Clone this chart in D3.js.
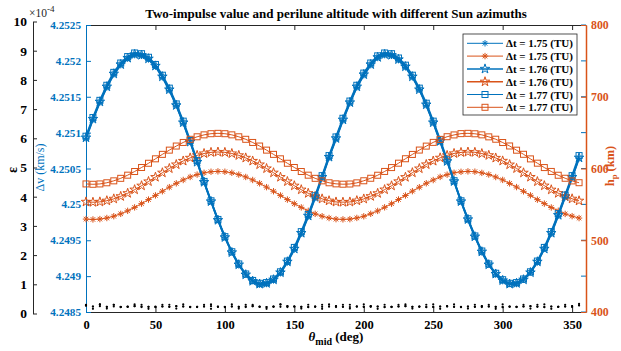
<!DOCTYPE html>
<html>
<head>
<meta charset="utf-8">
<script src="https://cdn.jsdelivr.net/npm/d3@7"></script>
<style>
  html, body { margin: 0; padding: 0; background: #fff; }
  svg { display: block; }
  svg text { font-family: "Liberation Serif", "Times New Roman", serif; }
</style>
</head>
<body>
<svg id="chart" width="621" height="351"></svg>
<script>
// Sun azimuth samples (deg)
const thetaMid = [0,5,10,15,20,25,30,35,40,45,50,55,60,65,70,75,80,85,90,95,100,105,110,115,120,125,130,135,140,145,150,155,160,165,170,175,
  180,185,190,195,200,205,210,215,220,225,230,235,240,245,250,255,260,265,270,275,280,285,290,295,300,305,310,315,320,325,330,335,340,345,350,355];

// Two-impulse Δv (km/s) for each transfer time
const dv175 = [4.25092,4.25118,4.25142,4.25163,4.25181,4.25194,4.25203,4.25208,4.25207,4.25202,4.25192,4.25177,4.25159,4.25138,4.25113,4.25087,4.25059,4.25031,4.25004,4.24978,4.24954,4.24933,4.24915,4.24902,4.24893,4.24888,4.24889,4.24894,4.24904,4.24919,4.24937,4.24959,4.24983,4.25009,4.25037,4.25065,
  4.25091,4.25117,4.25141,4.25163,4.25180,4.25194,4.25204,4.25208,4.25207,4.25201,4.25191,4.25177,4.25160,4.25138,4.25114,4.25087,4.25060,4.25032,4.25004,4.24978,4.24955,4.24933,4.24916,4.24902,4.24893,4.24889,4.24889,4.24895,4.24905,4.24919,4.24938,4.24959,4.24984,4.25010,4.25037,4.25064];
const dv176 = [4.25093,4.25119,4.25143,4.25164,4.25182,4.25195,4.25204,4.25209,4.25208,4.25203,4.25193,4.25178,4.25160,4.25138,4.25114,4.25087,4.25059,4.25031,4.25004,4.24978,4.24954,4.24933,4.24916,4.24902,4.24893,4.24889,4.24890,4.24895,4.24905,4.24920,4.24938,4.24960,4.24984,4.25010,4.25038,4.25066,
  4.25092,4.25118,4.25142,4.25164,4.25181,4.25195,4.25205,4.25209,4.25208,4.25202,4.25192,4.25178,4.25160,4.25139,4.25114,4.25088,4.25060,4.25032,4.25004,4.24979,4.24955,4.24934,4.24916,4.24903,4.24894,4.24889,4.24890,4.24895,4.24905,4.24920,4.24938,4.24960,4.24985,4.25011,4.25038,4.25065];
const dv177 = [4.25095,4.25121,4.25145,4.25166,4.25184,4.25197,4.25206,4.25211,4.25210,4.25205,4.25195,4.25180,4.25162,4.25140,4.25116,4.25089,4.25061,4.25032,4.25005,4.24979,4.24955,4.24934,4.24917,4.24903,4.24894,4.24890,4.24891,4.24896,4.24906,4.24921,4.24940,4.24962,4.24986,4.25012,4.25040,4.25068,
  4.25094,4.25120,4.25144,4.25166,4.25183,4.25197,4.25207,4.25211,4.25210,4.25204,4.25194,4.25180,4.25162,4.25141,4.25116,4.25090,4.25062,4.25033,4.25005,4.24980,4.24956,4.24935,4.24917,4.24904,4.24895,4.24890,4.24891,4.24896,4.24906,4.24921,4.24940,4.24962,4.24987,4.25013,4.25040,4.25068];

// Perilune altitude (km) for each transfer time
const h175 = [529.5,529.0,529.5,531.0,533.5,536.8,541.0,545.8,551.0,556.7,562.5,568.3,574.0,579.3,584.0,588.2,591.5,594.0,595.5,596.0,595.5,594.0,591.5,588.2,584.0,579.3,574.0,568.3,562.5,556.7,551.0,545.8,541.0,536.8,533.5,531.0,
  529.4,529.1,529.4,531.1,533.4,536.9,540.9,545.9,550.9,556.8,562.4,568.4,573.9,579.4,583.9,588.3,591.4,594.1,595.4,596.0,595.6,593.9,591.6,588.1,584.1,579.2,574.1,568.2,562.6,556.6,551.1,545.7,541.1,536.7,533.6,530.9];
const h176 = [553.5,553.0,553.5,555.1,557.7,561.2,565.5,570.5,576.0,581.9,588.0,594.1,600.0,605.5,610.5,614.8,618.3,620.9,622.5,623.0,622.5,620.9,618.3,614.8,610.5,605.5,600.0,594.1,588.0,581.9,576.0,570.5,565.5,561.2,557.7,555.1,
  553.4,553.1,553.4,555.2,557.6,561.3,565.4,570.6,575.9,582.0,587.9,594.2,599.9,605.6,610.4,614.9,618.2,621.0,622.4,623.0,622.6,620.8,618.4,614.7,610.6,605.4,600.1,594.0,588.1,581.8,576.1,570.4,565.6,561.1,557.8,555.0];
const h177 = [578.5,578.0,578.5,580.1,582.8,586.3,590.7,595.8,601.4,607.3,613.5,619.7,625.6,631.3,636.3,640.7,644.2,646.9,648.5,649.0,648.5,646.9,644.2,640.7,636.3,631.3,625.6,619.7,613.5,607.3,601.4,595.8,590.7,586.3,582.8,580.1,
  578.6,578.1,578.4,580.0,582.9,586.4,590.6,595.9,601.3,607.4,613.6,619.6,625.7,631.2,636.4,640.6,644.3,646.8,648.6,649.0,648.4,646.9,644.1,640.8,636.2,631.4,625.5,619.8,613.4,607.4,601.3,595.9,590.6,586.4,582.7,580.2];

// Residual ε (×10^-4) for each transfer time
const eps175 = [0.27,0.24,0.25,0.23,0.24,0.22,0.23,0.25,0.24,0.23,0.22,0.24,0.23,0.25,0.24,0.22,0.23,0.24,0.25,0.23,0.22,0.24,0.23,0.24,0.25,0.23,0.22,0.24,0.23,0.25,0.24,0.23,0.22,0.24,0.23,0.24,
  0.25,0.23,0.22,0.24,0.23,0.25,0.24,0.22,0.23,0.24,0.25,0.23,0.24,0.22,0.23,0.24,0.25,0.23,0.22,0.24,0.23,0.25,0.24,0.23,0.22,0.24,0.23,0.24,0.25,0.23,0.22,0.24,0.23,0.24,0.25,0.28];
const eps176 = [0.30,0.16,0.31,0.17,0.30,0.23,0.24,0.31,0.22,0.16,0.24,0.30,0.23,0.17,0.31,0.23,0.22,0.30,0.16,0.24,0.23,0.31,0.17,0.22,0.30,0.24,0.16,0.23,0.31,0.22,0.24,0.17,0.30,0.23,0.16,0.31,
  0.22,0.30,0.17,0.24,0.31,0.23,0.16,0.30,0.22,0.24,0.31,0.17,0.23,0.30,0.22,0.16,0.24,0.31,0.23,0.17,0.30,0.22,0.24,0.16,0.31,0.23,0.22,0.30,0.17,0.24,0.31,0.16,0.23,0.30,0.22,0.33];
const eps177 = [0.27,0.24,0.31,0.23,0.30,0.22,0.23,0.25,0.30,0.23,0.22,0.24,0.30,0.25,0.24,0.22,0.23,0.24,0.31,0.23,0.22,0.24,0.23,0.30,0.25,0.23,0.22,0.24,0.31,0.25,0.24,0.23,0.22,0.24,0.30,0.24,
  0.25,0.23,0.30,0.24,0.23,0.25,0.24,0.22,0.23,0.30,0.25,0.23,0.24,0.22,0.31,0.24,0.25,0.23,0.22,0.24,0.23,0.25,0.30,0.23,0.22,0.24,0.23,0.24,0.25,0.30,0.22,0.24,0.23,0.24,0.25,0.28];

const xTicks = [0,50,100,150,200,250,300,350];
const dvTicks = [4.2485,4.249,4.2495,4.25,4.2505,4.251,4.2515,4.252,4.2525];
const hTicks = [400,500,600,700,800];
const epsTicks = [0,1,2,3,4,5,6,7,8,9,10];
const legendLabels = ["Δt = 1.75 (TU)","Δt = 1.75 (TU)","Δt = 1.76 (TU)","Δt = 1.76 (TU)","Δt = 1.77 (TU)","Δt = 1.77 (TU)"];

const BLUE = "#0072BD", ORANGE = "#D95319", AXIS = "#262626";
const SERIF = '"Liberation Serif", "Times New Roman", serif';

const svg = d3.select("#chart");

const x = d3.scaleLinear().domain([0, 360]).range([86, 586]);
const yDv = d3.scaleLinear().domain([4.2485, 4.2525]).range([312, 25]);
const yH = d3.scaleLinear().domain([400, 800]).range([312, 25]);
const yEps = d3.scaleLinear().domain([0, 10]).range([313.5, 21.5]);

function styleAxis(g, color, size, weight) {
  g.attr("font-family", SERIF).attr("font-size", size);
  g.select(".domain").attr("stroke", color).attr("stroke-width", 1);
  g.selectAll(".tick line").attr("stroke", color).attr("stroke-width", 1);
  g.selectAll(".tick text").attr("fill", color)
    .attr("font-family", SERIF).attr("font-size", size).attr("font-weight", weight);
}

// ε axis on the far left
const gEps = svg.append("g").attr("transform", "translate(33,0)")
  .call(d3.axisLeft(yEps).tickValues(epsTicks).tickSize(-4).tickSizeOuter(0).tickPadding(6).tickFormat(d3.format("d")));
styleAxis(gEps, AXIS, 13.5, "bold");
gEps.selectAll(".tick text").attr("fill", "#000");

svg.append("text").attr("x", 29).attr("y", 17)
  .attr("font-size", 11.5).attr("fill", AXIS)
  .text("×10").append("tspan").attr("dy", -5).attr("font-size", 9).text("-4");

// Box top and bottom
const gTop = svg.append("g").attr("transform", "translate(0,25)")
  .call(d3.axisTop(x).tickValues(xTicks).tickSize(-5).tickSizeOuter(0).tickFormat(""));
styleAxis(gTop, AXIS, 12, "bold");

const gBottom = svg.append("g").attr("transform", "translate(0,312)")
  .call(d3.axisBottom(x).tickValues(xTicks).tickSize(-5).tickSizeOuter(0).tickPadding(8));
styleAxis(gBottom, AXIS, 12.5, "bold");
gBottom.selectAll(".tick text").attr("fill", "#000");

// Left Δv axis
const gDv = svg.append("g").attr("transform", "translate(86,0)")
  .call(d3.axisLeft(yDv).tickValues(dvTicks).tickSize(-5).tickSizeOuter(0).tickPadding(5).tickFormat(d3.format(".4~f")));
styleAxis(gDv, BLUE, 11.2, "bold");

// Right side: Δv ticks mirrored, then h axis
svg.append("g").selectAll("line").data(dvTicks).join("line")
  .attr("x1", 581).attr("x2", 586)
  .attr("y1", d => yDv(d)).attr("y2", d => yDv(d))
  .attr("stroke", BLUE);

const gH = svg.append("g").attr("transform", "translate(586,0)")
  .call(d3.axisRight(yH).tickValues(hTicks).tickSize(-5).tickSizeOuter(0).tickPadding(5));
styleAxis(gH, ORANGE, 11.8, "bold");
gH.select(".domain").attr("stroke-width", 1.5);

// Series
const asteriskPath = r => {
  const a = r * 0.707;
  return `M${-r},0H${r}M0,${-r}V${r}M${-a},${-a}L${a},${a}M${-a},${a}L${a},${-a}`;
};
const starPath = d3.symbol(d3.symbolStar).size(28)();

function drawMarker(sel, kind, color) {
  if (kind === "asterisk") {
    sel.append("path").attr("d", asteriskPath(3.2)).attr("stroke", color).attr("stroke-width", 1).attr("fill", "none");
  } else if (kind === "star") {
    sel.append("path").attr("d", starPath).attr("stroke", color).attr("stroke-width", 1).attr("fill", "none");
  } else {
    sel.append("rect").attr("x", -3).attr("y", -3).attr("width", 6).attr("height", 6)
      .attr("stroke", color).attr("stroke-width", 1).attr("fill", "none");
  }
}

const series = [
  { values: dv175, scale: yDv, color: BLUE,   marker: "asterisk", width: 1.8 },
  { values: h175,  scale: yH,  color: ORANGE, marker: "asterisk", width: 1 },
  { values: dv176, scale: yDv, color: BLUE,   marker: "star",     width: 1.8 },
  { values: h176,  scale: yH,  color: ORANGE, marker: "star",     width: 1 },
  { values: dv177, scale: yDv, color: BLUE,   marker: "square",   width: 1.8 },
  { values: h177,  scale: yH,  color: ORANGE, marker: "square",   width: 1 }
];

const plot = svg.append("g");
series.forEach(s => {
  const line = d3.line().x((d, i) => x(thetaMid[i])).y(d => s.scale(d));
  plot.append("path").datum(s.values).attr("d", line)
    .attr("fill", "none").attr("stroke", s.color).attr("stroke-width", s.width);
  plot.append("g").selectAll("g").data(s.values).join("g")
    .attr("transform", (d, i) => `translate(${x(thetaMid[i])},${s.scale(d)})`)
    .each(function () { drawMarker(d3.select(this), s.marker, s.color); });
});

// ε points
[eps175, eps176, eps177].forEach(arr => {
  plot.append("g").selectAll("circle").data(arr).join("circle")
    .attr("cx", (d, i) => x(thetaMid[i])).attr("cy", d => yEps(d))
    .attr("r", 1.1).attr("fill", "#000");
});

// Title and axis labels
svg.append("text").attr("x", 336).attr("y", 18).attr("text-anchor", "middle")
  .attr("font-size", 13).attr("font-weight", "bold").attr("fill", "#000")
  .text("Two-impulse value and perilune altitude with different Sun azimuths");

const xl = svg.append("text").attr("x", 336).attr("y", 341).attr("text-anchor", "middle")
  .attr("font-size", 13).attr("font-weight", "bold").attr("fill", "#000");
xl.append("tspan").attr("font-style", "italic").text("θ");
xl.append("tspan").attr("dy", 4).attr("font-size", 10).text("mid");
xl.append("tspan").attr("dy", -4).text(" (deg)");

svg.append("text").attr("transform", "translate(17,170) rotate(-90)").attr("text-anchor", "middle")
  .attr("font-size", 14).attr("font-weight", "bold").attr("fill", "#000").text("ε");

svg.append("text").attr("transform", "translate(44,167.5) rotate(-90)").attr("text-anchor", "middle")
  .attr("font-size", 12).attr("fill", BLUE).text("Δv (km/s)");

const hl = svg.append("text").attr("transform", "translate(613.5,166) rotate(-90)").attr("text-anchor", "middle")
  .attr("font-size", 12.5).attr("font-weight", "bold").attr("fill", ORANGE);
hl.append("tspan").text("h");
hl.append("tspan").attr("dy", 3.5).attr("font-size", 8.5).text("p");
hl.append("tspan").attr("dy", -3.5).text(" (km)");

// Legend
const legend = svg.append("g");
legend.append("rect").attr("x", 463).attr("y", 34).attr("width", 114).attr("height", 81)
  .attr("fill", "#fff").attr("stroke", AXIS).attr("stroke-width", 0.8);
series.forEach((s, i) => {
  const yy = 43.3 + i * 12.8;
  const row = legend.append("g");
  row.append("line").attr("x1", 467).attr("x2", 503).attr("y1", yy).attr("y2", yy)
    .attr("stroke", s.color).attr("stroke-width", s.marker === "star" ? 1.5 : 1);
  drawMarker(row.append("g").attr("transform", `translate(485,${yy})`), s.marker, s.color);
  row.append("text").attr("x", 506).attr("y", yy + 4)
    .attr("font-size", 11).attr("font-weight", "bold").attr("fill", "#000")
    .text(legendLabels[i]);
});

// Keep every label in the serif face
svg.selectAll("text").style("font-family", SERIF);
</script>
</body>
</html>
